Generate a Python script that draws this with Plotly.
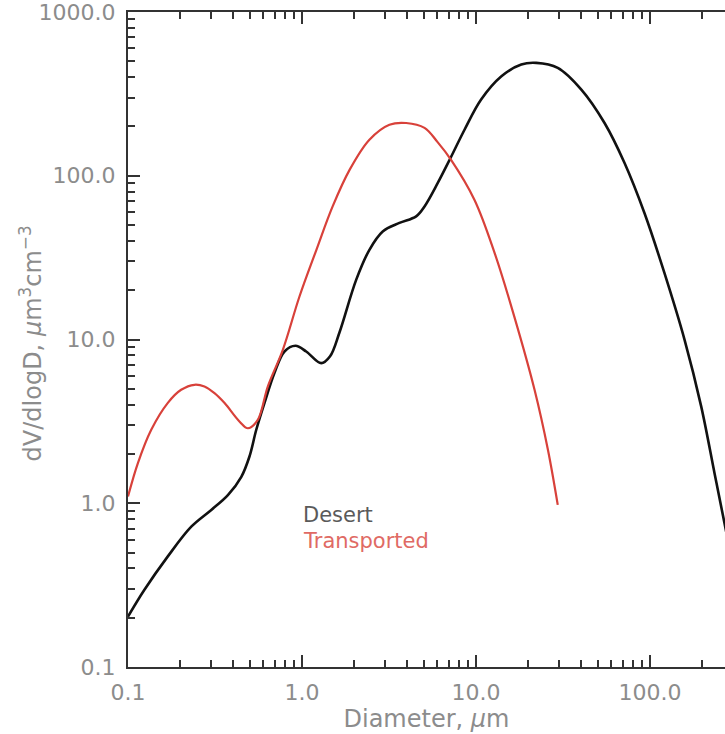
import plotly.graph_objects as go

# Desert size distribution (black)
desert_d = [0.100, 0.124, 0.169, 0.231, 0.301, 0.375, 0.448, 0.499, 0.546, 0.609,
            0.695, 0.793, 0.918, 1.057, 1.29, 1.45, 1.64, 2.05, 2.44, 2.91,
            3.63, 4.53, 5.06, 6.03, 7.13, 8.59, 10.7, 14.0, 18.2, 22.2,
            29.5, 40.3, 54.8, 71.3, 92.9, 121, 158, 197, 235, 268, 282]
desert_v = [0.203, 0.295, 0.472, 0.719, 0.910, 1.12, 1.45, 1.93, 2.81, 4.10,
            6.26, 8.45, 9.15, 8.45, 7.17, 7.9, 11.0, 23.2, 35.3, 45.7,
            51.5, 56.5, 65.0, 90.4, 128, 191, 292, 405, 478, 489,
            456, 336, 210, 120, 59.2, 25.5, 9.96, 3.89, 1.52, 0.755, 0.575]

# Transported size distribution (red)
transp_d = [0.100, 0.114, 0.136, 0.169, 0.202, 0.241, 0.275, 0.314, 0.359, 0.437,
            0.489, 0.557, 0.636, 0.776, 0.967, 1.21, 1.50, 1.88, 2.44, 3.18,
            3.97, 5.06, 6.0, 7.19, 9.79, 12.8, 16.6, 21.7, 25.9, 29.5]
transp_v = [1.10, 1.76, 2.81, 4.09, 4.93, 5.29, 5.16, 4.70, 4.09, 3.16,
            2.87, 3.23, 5.16, 8.65, 18.3, 35.3, 65.0, 109, 166, 205,
            210, 196, 161, 125, 71.4, 33.7, 13.8, 4.93, 2.12, 0.977]

x_major = [0.1, 1, 10, 100]
x_major_text = ["0.1", "1.0", "10.0", "100.0"]
y_major = [0.1, 1, 10, 100, 1000]
y_major_text = ["0.1", "1.0", "10.0", "100.0", "1000.0"]
x_minor = [m * 10 ** e for e in (-1, 0, 1, 2) for m in range(2, 10)]
y_minor = [m * 10 ** e for e in (-1, 0, 1, 2) for m in range(2, 10)]

FONT = "DejaVu Sans"
GRAY = "#8c8c8c"
AXIS = "#333333"

fig = go.Figure()
fig.add_trace(go.Scatter(x=desert_d, y=desert_v, mode="lines",
                         line=dict(color="#111111", width=2.6, shape="spline", smoothing=1.0),
                         name="Desert", showlegend=False))
fig.add_trace(go.Scatter(x=transp_d, y=transp_v, mode="lines",
                         line=dict(color="#d8413a", width=2.2, shape="spline", smoothing=1.0),
                         name="Transported", showlegend=False))

fig.add_annotation(x=0.290, y=0.2313, xref="paper", yref="paper", text="Desert",
                   showarrow=False, xanchor="left", yanchor="middle",
                   font=dict(family=FONT, size=21, color="#5a5a5a"))
fig.add_annotation(x=0.290, y=0.1931, xref="paper", yref="paper", text="Transported",
                   showarrow=False, xanchor="left", yanchor="middle",
                   font=dict(family=FONT, size=21, color="#e06a64"))

# y-axis title placed as rotated text left of the tick labels
fig.add_annotation(x=-0.1625, y=0.494, xref="paper", yref="paper",
                   text="dV/dlogD, <i>μ</i>m<sup>3</sup>cm<sup>−3</sup>",
                   showarrow=False, textangle=-90, xanchor="center", yanchor="middle",
                   font=dict(family=FONT, size=24, color=GRAY))

fig.update_xaxes(type="log", range=[-1, 2.431],
                 tickvals=x_major, ticktext=x_major_text,
                 ticks="inside", ticklen=12, tickwidth=2, tickcolor=AXIS,
                 showline=True, linecolor=AXIS, linewidth=2, mirror="allticks",
                 showgrid=False, zeroline=False,
                 tickfont=dict(family=FONT, size=22, color=GRAY),
                 ticklabelstandoff=5, ticklabeloverflow="allow",
                 minor=dict(tickvals=x_minor, ticks="inside", ticklen=7, tickwidth=2,
                            tickcolor=AXIS, showgrid=False),
                 title=dict(text="Diameter, <i>μ</i>m", standoff=2,
                            font=dict(family=FONT, size=24, color=GRAY)))
fig.update_yaxes(type="log", range=[-1, 3],
                 tickvals=y_major, ticktext=y_major_text,
                 ticks="inside", ticklen=12, tickwidth=2, tickcolor=AXIS,
                 showline=True, linecolor=AXIS, linewidth=2, mirror=False,
                 showgrid=False, zeroline=False,
                 tickfont=dict(family=FONT, size=22, color=GRAY),
                 ticklabelstandoff=6, ticklabeloverflow="allow",
                 minor=dict(tickvals=y_minor, ticks="inside", ticklen=7, tickwidth=2,
                            tickcolor=AXIS, showgrid=False))

fig.update_layout(width=725, height=734,
                  margin=dict(l=128, r=0, t=12, b=67, pad=0),
                  paper_bgcolor="white", plot_bgcolor="white")

# remove the default 8px page margin so the figure fills the window exactly
fig.write_html("out.html", config={"displayModeBar": False},
               post_script="document.body.style.margin='0';"
                           "document.documentElement.style.overflow='hidden';")
